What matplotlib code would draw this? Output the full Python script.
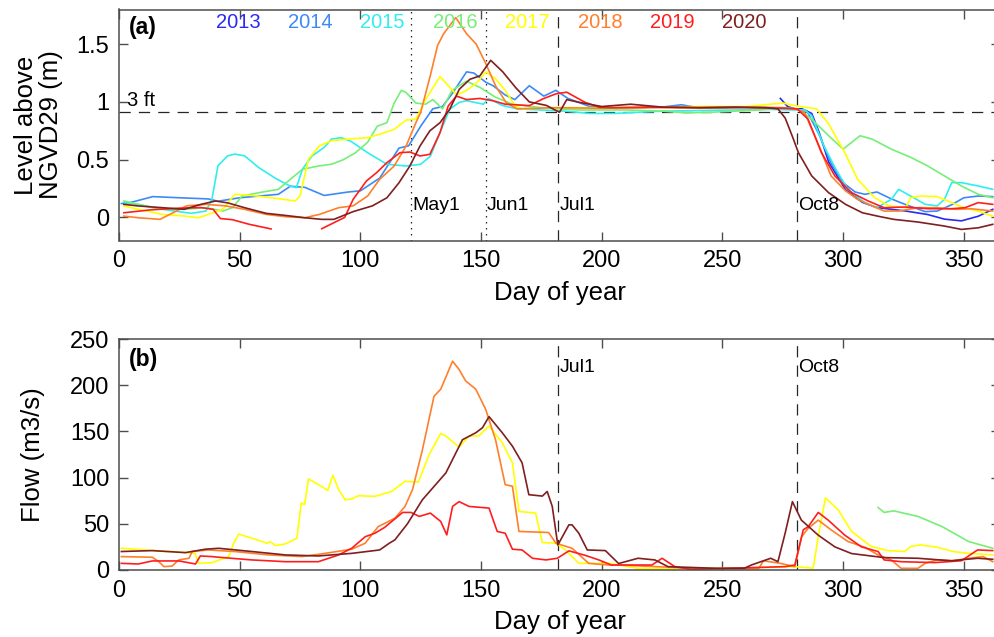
import numpy as np
import matplotlib.pyplot as plt

plt.rcParams['font.family'] = ['Liberation Sans', 'DejaVu Sans']

years = ['2013', '2014', '2015', '2016', '2017', '2018', '2019', '2020']
year_colors = ['#2a2af2', '#3d8af7', '#30eeee', '#77ee77',
               '#ffff00', '#ff7f2a', '#ff1e1e', '#7f1f1f']

# ---- lake level (m above NGVD29) by day of year ----
d13 = [274, 277, 280, 283, 287, 290, 294, 301, 308, 314, 320, 326, 335, 342, 349, 356, 362]
l13 = [1.03, 0.96, 0.94, 0.94, 0.9, 0.74, 0.48, 0.24, 0.13, 0.085, 0.07, 0.055, 0.025,
       -0.015, -0.03, 0.01, 0.07]

d14 = [1, 5, 14, 25, 37, 41, 50, 58, 66, 71, 77, 85, 95, 100, 108, 116, 120, 125, 130, 134,
       138, 144, 147, 152, 155, 160, 164, 170, 176, 181, 186, 195, 205, 215, 225, 233, 240,
       250, 260, 270, 280, 285, 290, 295, 300, 305, 309, 314, 320, 326, 334, 339, 345, 350,
       356, 362]
l14 = [0.12, 0.13, 0.18, 0.17, 0.16, 0.14, 0.17, 0.185, 0.2, 0.27, 0.26, 0.19, 0.22, 0.23,
       0.34, 0.6, 0.62, 0.79, 0.94, 0.96, 1.07, 1.26, 1.25, 1.17, 1.14, 1.06, 1.02, 1.14,
       1.05, 1.1, 1.03, 0.96, 0.95, 0.95, 0.955, 0.975, 0.95, 0.95, 0.955, 0.95, 0.94, 0.92,
       0.72, 0.47, 0.3, 0.22, 0.2, 0.22, 0.16, 0.11, 0.05, 0.055, 0.11, 0.17, 0.185, 0.18]

d15 = [2, 8, 14, 23, 30, 36, 38.5, 41, 45, 48, 52, 58, 65, 71, 73.5, 76, 80, 85, 88, 92,
       96, 103, 111, 119, 125, 129, 133, 137, 141, 144, 151, 153, 159, 165, 175, 185, 195,
       205, 215, 225, 240, 255, 270, 280, 284, 287, 292, 297, 302, 309, 314, 320, 323, 328,
       334, 339, 342, 345, 349, 356, 362]
l15 = [0.126, 0.113, 0.084, 0.055, 0.035, 0.055, 0.157, 0.447, 0.533, 0.548, 0.533, 0.43,
       0.336, 0.27, 0.258, 0.417, 0.533, 0.606, 0.678, 0.69, 0.66, 0.56, 0.46, 0.445, 0.46,
       0.53, 0.734, 0.936, 0.996, 1.01, 0.98, 1.03, 0.968, 0.94, 0.93, 0.92, 0.9, 0.9, 0.91,
       0.92, 0.925, 0.93, 0.935, 0.93, 0.93, 0.88, 0.62, 0.417, 0.243, 0.128, 0.084, 0.157,
       0.243, 0.185, 0.113, 0.1, 0.157, 0.301, 0.301, 0.272, 0.243]

d16 = [2, 8, 18, 27, 36, 43, 47, 51, 58, 66, 71, 76, 83, 88, 93, 98, 103, 107, 111, 114,
       117, 119, 123, 127, 130, 134, 138, 144, 150, 156, 163, 175, 190, 210, 225, 235, 245,
       255, 265, 275, 281, 287, 294, 300, 307, 312, 320, 328, 335, 342, 349, 356, 362]
l16 = [0.142, 0.113, 0.07, 0.07, 0.084, 0.055, 0.084, 0.185, 0.214, 0.243, 0.33, 0.417,
       0.446, 0.46, 0.5, 0.56, 0.65, 0.79, 0.82, 0.99, 1.1, 1.08, 0.99, 0.98, 1.02, 0.94,
       1.1, 1.18, 1.12, 1.04, 0.98, 0.95, 0.93, 0.93, 0.92, 0.905, 0.91, 0.92, 0.93, 0.95,
       0.94, 0.85, 0.707, 0.591, 0.707, 0.678, 0.591, 0.52, 0.446, 0.359, 0.272, 0.2, 0.17]

d17 = [2, 8, 18, 27, 33, 37, 43, 48, 55, 63, 73, 75, 78.5, 83, 88, 95, 103, 108, 114, 119,
       123, 127, 133, 136, 140, 144, 148, 152, 156, 160, 164, 167, 180, 200, 220, 240, 260,
       275, 282, 289, 294, 301, 306, 313, 319, 326, 328, 332, 339, 345, 350, 356, 362]
l17 = [0.099, 0.07, 0.026, 0.012, -0.003, 0.026, 0.07, 0.2, 0.19, 0.171, 0.142, 0.185,
       0.504, 0.62, 0.664, 0.678, 0.69, 0.72, 0.763, 0.843, 0.85, 1.02, 1.22, 1.15, 1.06,
       1.1, 1.16, 1.26, 1.2, 1.1, 0.968, 0.94, 0.95, 0.95, 0.955, 0.96, 0.96, 0.99, 0.96,
       0.94, 0.81, 0.548, 0.33, 0.171, 0.1, 0.084, 0.17, 0.185, 0.18, 0.128, 0.084, 0.055,
       0.01]

d18 = [2, 8, 17, 21, 28, 36, 44, 52, 61, 69, 77, 83, 91, 97, 103, 108, 114, 119, 123, 125,
       129, 132, 134.5, 139.5, 144, 148, 152, 156, 160.5, 165, 180, 200, 220, 240, 260, 275,
       280, 284, 290, 295, 301, 306, 312, 317, 323, 331, 339, 347, 353, 362]
l18 = [0.011, -0.003, -0.017, 0.026, 0.1, 0.113, 0.1, 0.07, 0.026, 0.006, -0.003, 0.026,
       0.084, 0.1, 0.185, 0.33, 0.445, 0.62, 0.82, 0.91, 1.23, 1.49, 1.59, 1.73, 1.59, 1.5,
       1.33, 1.14, 0.99, 0.94, 0.95, 0.945, 0.95, 0.95, 0.955, 0.95, 0.94, 0.91, 0.62,
       0.359, 0.23, 0.156, 0.1, 0.055, 0.055, 0.084, 0.084, 0.07, 0.075, 0.055]

# 2019 has a gap in the record between days 63 and 84
d19a = [2, 13, 25, 34, 39, 42, 47, 54, 63]
l19a = [0.04, 0.065, 0.08, 0.085, 0.07, -0.01, -0.02, -0.06, -0.1]
d19b = [84, 93.5, 97, 102.5, 106.7, 111, 116.4, 120.5, 124.7, 128.8, 133, 136.4, 139.8,
        144, 149.5, 155, 160, 170, 175.6, 181, 185.5, 193, 199, 205, 220, 240, 260, 275,
        281, 285.5, 291, 296.6, 303.5, 310.4, 317, 325.6, 335.3, 345, 350.5, 356, 362]
l19b = [-0.098, 0.0, 0.156, 0.315, 0.387, 0.474, 0.56, 0.566, 0.532, 0.546, 0.734, 0.965,
        1.05, 1.02, 1.03, 1.01, 0.98, 0.968, 1.026, 1.07, 1.084, 0.997, 0.953, 0.95, 0.955,
        0.95, 0.95, 0.945, 0.94, 0.85, 0.562, 0.359, 0.214, 0.142, 0.084, 0.09, 0.075, 0.075,
        0.084, 0.128, 0.113]

d20 = [2, 8, 18, 27, 34, 40, 45, 52, 61, 69, 77, 84, 89, 97, 105, 111, 116, 120.5, 124.7,
       128.8, 133, 137, 141, 145.4, 149.5, 154, 159, 164.5, 170, 177, 182.5, 185.5, 190.5,
       200, 212, 225, 240, 255, 268, 273, 276, 279, 281.5, 287, 294, 301, 308, 314.5, 321,
       331, 342, 349, 356, 362]
l20 = [0.113, 0.099, 0.084, 0.07, 0.113, 0.142, 0.126, 0.084, 0.035, 0.017, -0.003, -0.017,
       -0.017, 0.05, 0.1, 0.17, 0.3, 0.445, 0.618, 0.75, 0.82, 0.936, 1.11, 1.196, 1.225,
       1.36, 1.26, 1.12, 1.0, 0.97, 0.91, 1.02, 0.997, 0.96, 0.98, 0.955, 0.95, 0.955, 0.95,
       0.94, 0.86, 0.7, 0.56, 0.359, 0.214, 0.113, 0.04, 0.01, -0.017, -0.04, -0.075,
       -0.104, -0.09, -0.06]

# ---- outflow (m3/s) by day of year ----
fd16 = [314.5, 317, 321, 331, 341, 352, 362]
f16 = [67.7, 62.3, 64, 58, 47, 30.8, 23.5]

fd17 = [1, 14, 27.5, 31.5, 33, 38.5, 45.5, 47.5, 49.6, 55, 61.3, 62.7, 64.7, 69, 73.7, 75.5,
        76.9, 78.5, 82.6, 86.5, 88.6, 91, 93.7, 96.4, 99.2, 106, 113, 118.5, 124, 128.5,
        133.3, 135.4, 140.9, 145, 149, 153.3, 158.8, 163, 165.7, 172.6, 175.4, 181, 185,
        190.5, 203, 215, 248, 270, 280, 287.6, 289.7, 292.7, 298, 303.5, 311.7, 318.6,
        325.5, 328, 332, 339, 345.5, 352, 362]
f17 = [23.6, 21, 19, 18, 7.2, 7.9, 14.5, 28.9, 38.8, 34.5, 29, 30.8, 26.4, 28.3, 34.4, 72.5,
       70.7, 98.6, 92.4, 86.2, 102.5, 87, 76, 76.8, 80.4, 79.7, 85, 96, 95, 125, 147.8, 145,
       133, 145, 145, 155.8, 137.7, 116, 63.4, 61.6, 29.7, 29, 21.7, 7.2, 7.2, 1.8, 1.8,
       2.9, 3.6, 2, 36, 78, 65, 41.7, 25.4, 21, 20, 25.4, 27.2, 24.6, 20, 18, 16.3]

fd18 = [1, 13.8, 16.5, 18.6, 22, 24.8, 29, 30.3, 37, 48, 62, 75.8, 85.4, 96.4, 102, 107.4,
        114.3, 118.5, 121.6, 125.7, 130.5, 133.3, 138.2, 140.9, 143.6, 147.8, 151.9, 156,
        160, 163, 165.7, 178, 181, 187.7, 194.6, 203, 207, 223, 240, 265, 267, 274, 280,
        282.8, 285.5, 289.7, 295, 302, 309, 314.5, 320, 324, 331, 334, 339, 345.5, 352, 358,
        362]
f18 = [14.5, 13.8, 9, 3.6, 4.3, 10.9, 12.7, 20, 21.7, 20, 16.3, 14.5, 18, 22.5, 29, 47, 56,
       68.8, 87, 130, 188, 195.7, 226, 217, 204.7, 195.7, 174, 141, 92.4, 90.6, 41.7, 40.6,
       29, 23.5, 7.2, 5.4, 5.4, 3.6, 1.5, 1.5, 10, 7.2, 3.6, 36, 45, 54, 43.5, 30.8, 24.6,
       16.3, 10.9, 1.8, 1.8, 7.2, 10.9, 10, 12.7, 14.5, 9]

fd19 = [1, 8, 13.8, 24.8, 31.7, 33.7, 38.6, 41.3, 55, 69, 82.6, 91, 96.4, 102, 106, 110,
        117.5, 121, 124.4, 129, 133.3, 135.8, 138.2, 140.9, 145, 153.3, 156.7, 160, 163, 167,
        171.3, 176.9, 181.6, 186.4, 193, 198.8, 204, 220.8, 225, 230.3, 237, 275.8, 280,
        283.5, 285.6, 289.7, 293.8, 300.7, 307.6, 314.5, 317, 324, 338, 349, 355.7, 362]
f19 = [7.2, 6.5, 9.8, 9.8, 6.5, 15.2, 14.5, 13.8, 10.9, 9, 9, 16.3, 23.5, 36, 39.8, 46,
       62.3, 62.3, 58, 61.6, 52.5, 38, 68.8, 74, 68.8, 67, 41.7, 39.8, 22.5, 21.7, 12.7,
       10.9, 12.7, 20.7, 16, 10.9, 5.4, 5.4, 12.7, 3.6, 0.7, 3.6, 5.4, 43.5, 47, 62.3, 54,
       37.7, 25, 20, 10.9, 9, 8, 10, 21.7, 21]

fd20 = [1, 13.8, 27.5, 35.8, 41.3, 55, 69, 82.6, 96.4, 108, 112, 114.3, 119.5, 125.7, 135.4,
        142.3, 147.8, 150.6, 153.3, 158.8, 163, 167, 169.8, 175.4, 177.4, 179.5, 181.8,
        186.4, 187.7, 190.5, 194, 201.5, 207, 215, 222, 227.5, 248, 259, 262, 270, 273, 276,
        279, 282.7, 289.7, 296.6, 303.5, 317, 330.9, 344.8, 355.7, 362]
f20 = [20, 21, 18.8, 22.5, 23.5, 20, 16.3, 15.2, 18, 21.7, 29, 32.6, 50, 76, 105, 141,
       148.5, 154, 166, 148.5, 134, 116, 81.5, 80, 85, 68.8, 27, 48.9, 48.9, 39.8, 21.7, 21,
       7, 12.7, 10.9, 3.6, 1.8, 1.8, 5.4, 12.7, 9, 40, 74, 54, 37.7, 25, 17.8, 13.4, 12.7,
       10, 12.7, 11.6]

# reference dates (day of year) and the 3 ft regulation level
may1, jun1, jul1, oct8 = 121, 152, 182, 281
three_ft = 0.9144

level_series = [(d13, l13), (d14, l14), (d15, l15), (d16, l16), (d17, l17), (d18, l18),
                (d19a + [np.nan] + d19b, l19a + [np.nan] + l19b), (d20, l20)]
flow_series = [('2016', fd16, f16), ('2017', fd17, f17), ('2018', fd18, f18),
               ('2019', fd19, f19), ('2020', fd20, f20)]
color_of = dict(zip(years, year_colors))

W, H = 994, 637
fig = plt.figure(figsize=(W / 100, H / 100), dpi=100)
ax1 = fig.add_axes([119 / W, 1 - 240.5 / H, 881 / W, 231 / H])
ax2 = fig.add_axes([119 / W, 1 - 570 / H, 881 / W, 231 / H])

dash = (0, (9, 6.5))
dot = (0, (1.2, 3.6))
ref_kw = dict(color='0.15', lw=0.9, zorder=1)

# panel (a): level
ax1.axhline(three_ft, linestyle=dash, **ref_kw)
for d in (may1, jun1):
    ax1.axvline(d, linestyle=dot, **ref_kw)
for d in (jul1, oct8):
    ax1.axvline(d, linestyle=dash, **ref_kw)
for (dx, lv), c in zip(level_series, year_colors):
    ax1.plot(dx, lv, color=c, lw=1.2, zorder=2)

for i, (yr, c) in enumerate(zip(years, year_colors)):
    ax1.text(40 + 30 * i, 1.69, yr, color=c, fontsize=14.5, ha='left', va='center')
ax1.text(3.3, 1.01, '3 ft', fontsize=14.5, ha='left', va='center')
for d, name in ((may1, 'May1'), (jun1, 'Jun1'), (jul1, 'Jul1'), (oct8, 'Oct8')):
    ax1.text(d + 0.4, 0.1, name, fontsize=14, ha='left', va='center')
ax1.text(0.011, 0.924, '(a)', transform=ax1.transAxes, fontsize=16.5,
         fontweight='bold', ha='left', va='center')

ax1.set_ylim(-0.2, 1.8)
ax1.set_yticks([0, 0.5, 1, 1.5])
ax1.set_yticklabels(['0', '0.5', '1', '1.5'])
ax1.set_ylabel('Level above\nNGVD29 (m)', fontsize=18.5, linespacing=1.05)
ax1.yaxis.set_label_coords(-0.064, 0.5)

# panel (b): flow
for d in (jul1, oct8):
    ax2.axvline(d, linestyle=dash, **ref_kw)
for yr, dx, fl in flow_series:
    ax2.plot(dx, fl, color=color_of[yr], lw=1.2, zorder=2)
for d, name in ((jul1, 'Jul1'), (oct8, 'Oct8')):
    ax2.text(d + 0.4, 219, name, fontsize=14, ha='left', va='center')
ax2.text(0.011, 0.913, '(b)', transform=ax2.transAxes, fontsize=16.5,
         fontweight='bold', ha='left', va='center')

ax2.set_ylim(0, 250)
ax2.set_yticks(np.arange(0, 251, 50))
ax2.set_ylabel('Flow (m3/s)', fontsize=18.5)
ax2.yaxis.set_label_coords(-0.084, 0.5)

for ax in (ax1, ax2):
    ax.set_xlim(0, 365)
    ax.set_xticks(np.arange(0, 351, 50))
    ax.set_xlabel('Day of year', fontsize=18.5)
    ax.xaxis.set_label_coords(0.5, -0.175)
    ax.tick_params(direction='in', top=True, right=True, length=6.5, width=1,
                   color='0.3', labelsize=17, pad=7)
    for s in ax.spines.values():
        s.set_color('0.3')
        s.set_linewidth(1.1)

fig.savefig('out.png', dpi=100)
